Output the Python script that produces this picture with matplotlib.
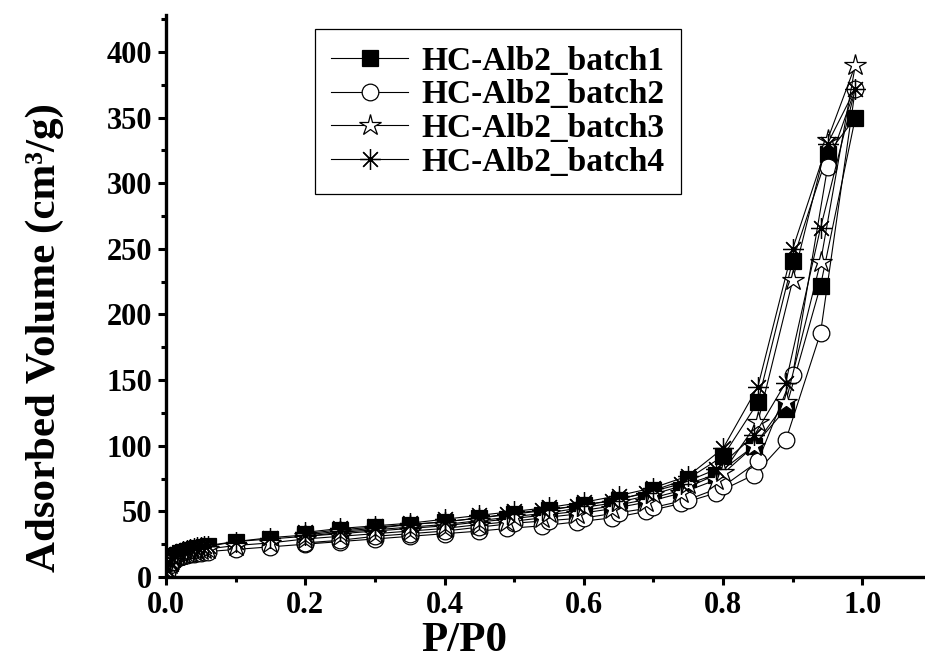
import matplotlib
matplotlib.use("Agg")
import matplotlib.pyplot as plt
from matplotlib.ticker import MultipleLocator, FormatStrFormatter

plt.rcParams['font.family'] = ['Liberation Serif', 'DejaVu Serif']
plt.rcParams['font.weight'] = 'bold'

# low pressure part of the adsorption branch (shared P/P0)
x_low = [0.002, 0.005, 0.008, 0.012, 0.016, 0.02, 0.025, 0.03, 0.035, 0.04, 0.045, 0.05, 0.055, 0.06]
# rest of the adsorption branch
x_ads = [0.1, 0.15, 0.2, 0.25, 0.3, 0.35, 0.4, 0.45, 0.49, 0.54, 0.59, 0.64, 0.69, 0.74, 0.79, 0.845, 0.89, 0.94, 0.99]
# desorption branch
x_des = [0.95, 0.9, 0.85, 0.8, 0.75, 0.7, 0.65, 0.6, 0.55, 0.5, 0.45, 0.4, 0.35, 0.3, 0.25, 0.2]

labels = ['HC-Alb2_batch1', 'HC-Alb2_batch2', 'HC-Alb2_batch3', 'HC-Alb2_batch4']

b1_low = [5, 11, 14, 16, 17, 18, 19, 19.8, 20.5, 21.2, 21.8, 22.3, 22.8, 23.3]
b1_ads = [27, 29, 31, 33, 35, 37, 39, 42, 44, 47, 50, 54, 59, 66, 78, 100, 128, 222, 350]
b1_des = [322, 241, 133, 92, 75, 66, 59, 55, 51, 48, 45, 42, 40, 38, 36, 33]

b2_low = [4, 9, 12, 13.5, 14.5, 15.3, 16, 16.6, 17.2, 17.7, 18.2, 18.6, 19, 19.4]
b2_ads = [21, 23, 25, 27, 29, 31, 33, 35, 37, 39, 42, 45, 50, 56, 64, 78, 104, 186, 372]
b2_des = [312, 154, 88, 69, 59, 53, 49, 45, 43, 41, 38, 35, 33, 31, 28, 26]

b3_low = [5, 10, 13, 15, 16, 17, 17.8, 18.5, 19.1, 19.7, 20.2, 20.6, 21, 21.4]
b3_ads = [24, 26, 29, 31, 33, 35, 37, 40, 42, 45, 48, 52, 57, 64, 74, 100, 133, 240, 390]
b3_des = [333, 226, 118, 80, 71, 63, 57, 53, 49, 46, 43, 40, 38, 36, 34, 31]

b4_low = [5, 11, 14.5, 16.5, 17.5, 18.5, 19.5, 20.4, 21.2, 21.9, 22.5, 23, 23.5, 24]
b4_ads = [27, 30, 32, 35, 37, 40, 42, 45, 48, 51, 54, 58, 64, 71, 82, 108, 148, 266, 372]
b4_des = [330, 250, 145, 98, 77, 68, 62, 57, 53, 50, 47, 44, 41, 39, 37, 34]

series = [(b1_low, b1_ads, b1_des), (b2_low, b2_ads, b2_des),
          (b3_low, b3_ads, b3_des), (b4_low, b4_ads, b4_des)]

styles = [
    dict(marker='s', markersize=11, markerfacecolor='black'),
    dict(marker='o', markersize=12, markerfacecolor='white'),
    dict(marker='*', markersize=16, markerfacecolor='white'),
    dict(marker=(8, 2, 0), markersize=15, markerfacecolor='black'),
]

fig = plt.figure(figsize=(9.25, 6.65), dpi=100)
ax = fig.add_axes([0.1795, 0.1323, 0.8205, 0.845])

x_all = x_low + x_ads + x_des
for (lo, ads, des), lab, st in zip(series, labels, styles):
    ax.plot(x_all, lo + ads + des, color='black', lw=0.8,
            markeredgecolor='black', markeredgewidth=0.9, label=lab, **st)

ax.set_xlim(0, 1.09)
ax.set_ylim(0, 428)
ax.xaxis.set_major_locator(MultipleLocator(0.2))
ax.xaxis.set_minor_locator(MultipleLocator(0.1))
ax.yaxis.set_major_locator(MultipleLocator(50))
ax.yaxis.set_minor_locator(MultipleLocator(25))
ax.xaxis.set_major_formatter(FormatStrFormatter('%.1f'))

for s in ['top', 'right']:
    ax.spines[s].set_visible(False)
for s in ['left', 'bottom']:
    ax.spines[s].set_linewidth(2.4)

ax.tick_params(which='major', direction='out', length=6, width=2.2, labelsize=22, pad=4)
ax.tick_params(which='minor', direction='out', length=3.5, width=2.2)
for t in ax.get_xticklabels() + ax.get_yticklabels():
    t.set_fontweight('bold')

ax.set_xlabel('P/P0', fontsize=31, fontweight='bold')
ax.set_ylabel('Adsorbed Volume (cm³/g)', fontsize=31, fontweight='bold')
ax.xaxis.set_label_coords(0.393, -0.08)
ax.yaxis.set_label_coords(-0.135, 0.427)

leg = ax.legend(loc='upper left', bbox_to_anchor=(0.196, 0.975), fontsize=24,
                frameon=True, fancybox=False, edgecolor='black', framealpha=1,
                handlelength=2.3, handletextpad=0.4, labelspacing=0.08,
                borderpad=0.5, borderaxespad=0)
leg.get_frame().set_linewidth(0.9)
for t in leg.get_texts():
    t.set_fontweight('bold')

fig.savefig('out.png', dpi=100)
